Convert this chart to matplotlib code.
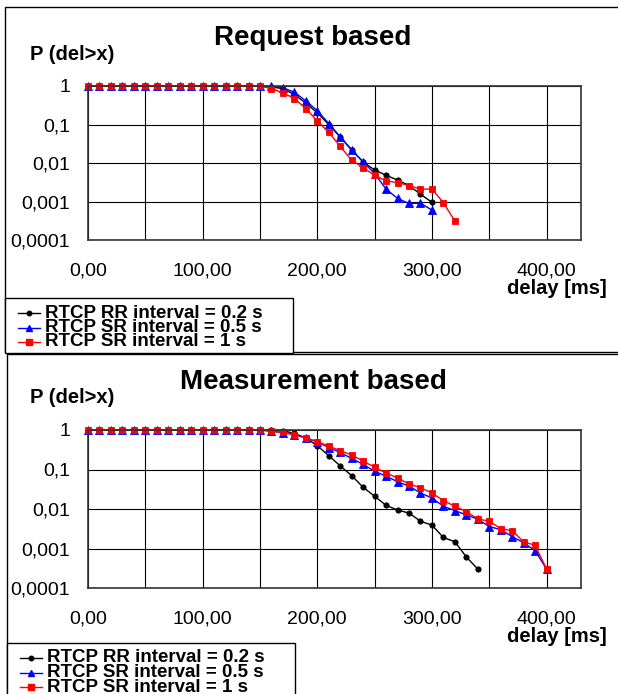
import matplotlib
matplotlib.use('Agg')
import matplotlib.pyplot as plt
from matplotlib.lines import Line2D
from matplotlib.patches import Rectangle
from matplotlib.ticker import FixedLocator, NullLocator

plt.rcParams['font.family'] = ['Liberation Sans', 'DejaVu Sans']

W, H = 618, 694

# delays [ms]
d_300 = [0, 10, 20, 30, 40, 50, 60, 70, 80, 90, 100, 110, 120, 130, 140, 150,
         160, 170, 180, 190, 200, 210, 220, 230, 240, 250, 260, 270, 280, 290, 300]
d_320 = d_300 + [310, 320]
d_340 = d_320 + [330, 340]
d_400 = d_340 + [350, 360, 370, 380, 390, 400]

ones16 = [1] * 16

# Request based
req_rr02 = ones16 + [0.95, 0.85, 0.6, 0.36, 0.2, 0.1, 0.047, 0.022, 0.0106, 0.0066,
                     0.0048, 0.0036, 0.0026, 0.00155, 0.00095]
req_sr05 = ones16 + [0.98, 0.9, 0.69, 0.41, 0.23, 0.106, 0.048, 0.0215, 0.0107, 0.0053,
                     0.0021, 0.0012, 0.00089, 0.0009, 0.0006]
req_sr1 = ones16 + [0.85, 0.67, 0.47, 0.26, 0.124, 0.062, 0.027, 0.0118, 0.0076, 0.0048,
                    0.0034, 0.0031, 0.0026, 0.0021, 0.0021, 0.00093, 0.00031]

# Measurement based
mea_rr02 = ones16 + [0.99, 0.96, 0.82, 0.63, 0.40, 0.224, 0.123, 0.070, 0.0354, 0.021,
                     0.0124, 0.0094, 0.0079, 0.0049, 0.0039, 0.0019, 0.00148, 0.00061, 0.0003]
mea_sr05 = ones16 + [0.93, 0.86, 0.76, 0.63, 0.5, 0.36, 0.27, 0.19, 0.135, 0.09,
                     0.068, 0.049, 0.038, 0.0254, 0.019, 0.0117, 0.0091, 0.0071, 0.0055,
                     0.0036, 0.003, 0.002, 0.0014, 0.00088, 0.0003]
mea_sr1 = ones16 + [0.93, 0.87, 0.76, 0.63, 0.51, 0.39, 0.30, 0.233, 0.164, 0.113,
                    0.081, 0.061, 0.043, 0.0347, 0.0254, 0.0163, 0.0117, 0.0086, 0.0056,
                    0.0049, 0.0032, 0.0028, 0.00148, 0.0012, 0.0003]

labels = ['RTCP RR interval = 0.2 s', 'RTCP SR interval = 0.5 s', 'RTCP SR interval = 1 s']
colors = ['black', '#0000ff', '#ff0000']
markers = ['o', '^', 's']
msizes = [3.8, 5.2, 4.8]

xticks = [0, 100, 200, 300, 400]
xticklabels = ['0,00', '100,00', '200,00', '300,00', '400,00']
yticks = [1e-4, 1e-3, 1e-2, 1e-1, 1]
yticklabels = ['0,0001', '0,001', '0,01', '0,1', '1']


def fx(px):
    return px / W


def fy(py):
    return 1 - py / H


fig = plt.figure(figsize=(W / 100, H / 100), dpi=100)


def panel(top, bottom, series, title, title_y, ylab_y, xlab_y, frame_top, frame_left, leg_top, leg_left, leg_h):
    ax = fig.add_axes([fx(88), fy(bottom), fx(581) - fx(88), fy(top) - fy(bottom)])
    for (xs, ys), c, m, ms in zip(series, colors, markers, msizes):
        ax.plot(xs, ys, color=c, marker=m, markersize=ms, linewidth=1.0,
                markeredgewidth=0.6, clip_on=False)
    ax.set_yscale('log')
    ax.set_xlim(0, 430)
    ax.set_ylim(1e-4, 1)
    ax.xaxis.set_major_locator(FixedLocator(xticks))
    ax.set_xticklabels(xticklabels)
    ax.xaxis.set_minor_locator(FixedLocator([50, 150, 250, 350]))
    ax.yaxis.set_major_locator(FixedLocator(yticks))
    ax.set_yticklabels(yticklabels)
    ax.yaxis.set_minor_locator(NullLocator())
    ax.tick_params(which='both', length=0)
    ax.tick_params(axis='x', labelsize=14, pad=16)
    ax.tick_params(axis='y', labelsize=14, pad=13)
    ax.grid(True, which='both', axis='x', color='black', linewidth=0.8)
    ax.grid(True, which='major', axis='y', color='black', linewidth=0.8)
    ax.set_axisbelow(True)
    for s in ax.spines.values():
        s.set_color('#333333')
        s.set_linewidth(1.2)

    fig.text(fx(313), fy(title_y), title, ha='center', va='center',
             fontsize=20, fontweight='bold')
    fig.text(fx(30), fy(ylab_y), 'P (del>x)', ha='left', va='center',
             fontsize=14.5, fontweight='bold')
    fig.text(fx(607), fy(xlab_y), 'delay [ms]', ha='right', va='center',
             fontsize=14.5, fontweight='bold')

    # outer frame
    fig.add_artist(Rectangle((fx(frame_left), fy(frame_top + 345)), 2, fy(frame_top) - fy(frame_top + 345),
                             transform=fig.transFigure, fill=False, edgecolor='black', linewidth=1.0))
    # legend box
    fig.add_artist(Rectangle((fx(leg_left), fy(leg_top + leg_h)), fx(leg_left + 288) - fx(leg_left),
                             fy(leg_top) - fy(leg_top + leg_h),
                             transform=fig.transFigure, fill=True, facecolor='white',
                             edgecolor='black', linewidth=1.0, zorder=3))
    for i, (lab, c, m, ms) in enumerate(zip(labels, colors, markers, msizes)):
        yy = fy(leg_top + 15 + 14.5 * i)
        fig.add_artist(Line2D([fx(leg_left + 13), fx(leg_left + 24), fx(leg_left + 35)], [yy, yy, yy],
                              color=c, marker=m, markersize=ms * 0.85, markevery=[1],
                              linewidth=1.0, transform=fig.transFigure, zorder=4))
        fig.text(fx(leg_left + 40), yy, lab, ha='left', va='center',
                 fontsize=13.5, fontweight='bold', zorder=5)
    return ax


panel(86, 240, [(d_300, req_rr02), (d_300, req_sr05), (d_320, req_sr1)],
      'Request based', 38, 55, 289, 7, 5, 298, 5, 55)
panel(430, 588, [(d_340, mea_rr02), (d_400, mea_sr05), (d_400, mea_sr1)],
      'Measurement based', 382, 398, 637, 354, 7, 643, 7, 60)

fig.savefig('out.png', dpi=100)
